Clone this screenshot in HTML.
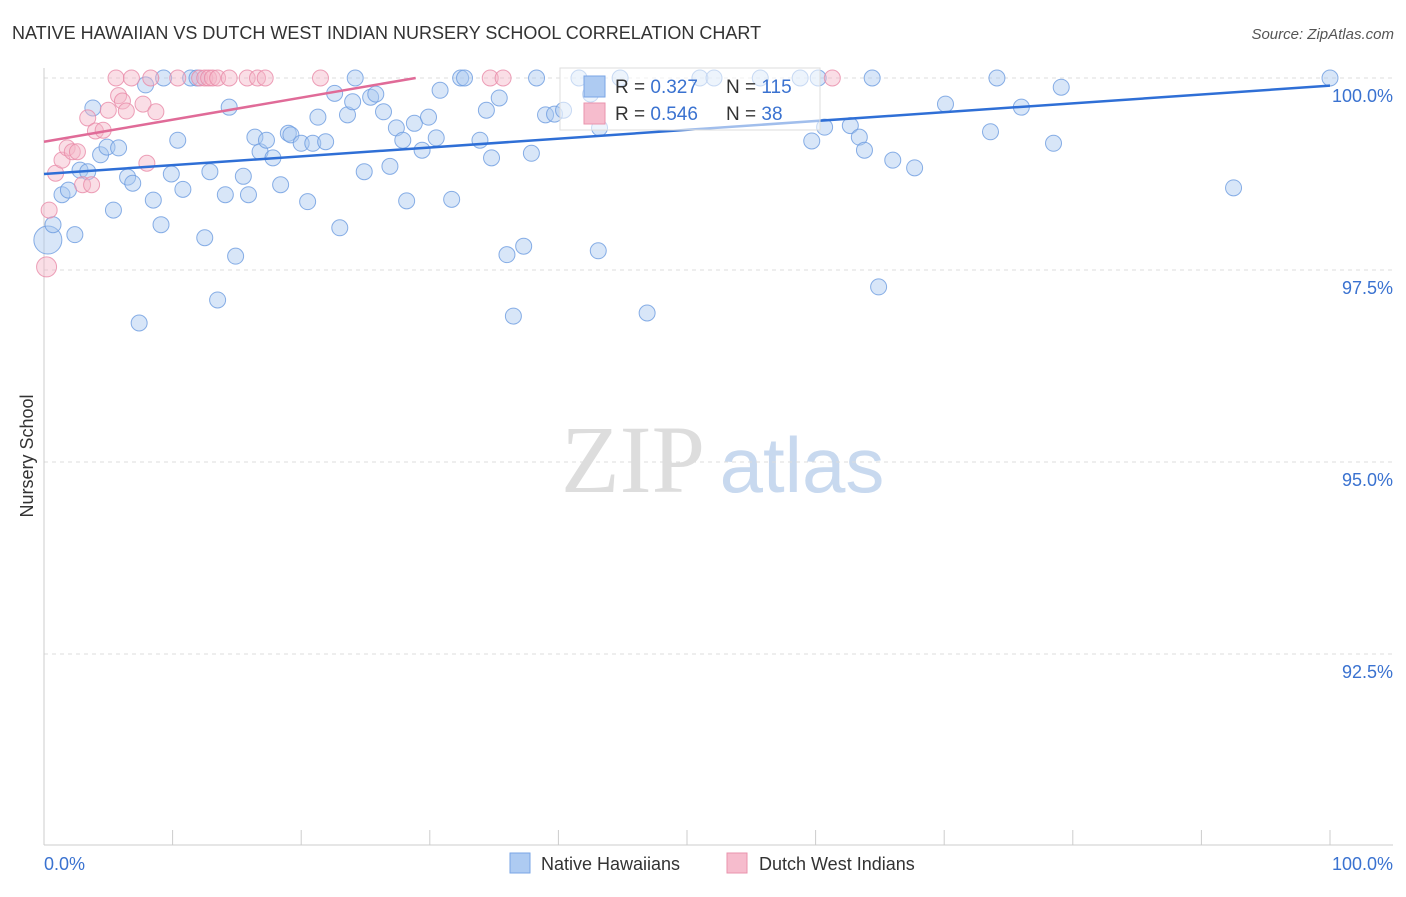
<!DOCTYPE html>
<html><head><meta charset="utf-8">
<style>
body{margin:0;background:#fff;font-family:"Liberation Sans",sans-serif;}
svg text{font-family:"Liberation Sans",sans-serif;}
</style></head>
<body>
<svg id="chart" width="1406" height="892" xmlns="http://www.w3.org/2000/svg">
<text x="12" y="39" font-size="18" fill="#333">NATIVE HAWAIIAN VS DUTCH WEST INDIAN NURSERY SCHOOL CORRELATION CHART</text>
<text x="1394" y="39" font-size="15" fill="#555" text-anchor="end" font-style="italic">Source: ZipAtlas.com</text>
<text x="33" y="456" font-size="18" fill="#333" text-anchor="middle" transform="rotate(-90 33 456)">Nursery School</text>
<g>
<text x="633" y="492" font-size="96" fill="#ddd" text-anchor="middle" font-family="Liberation Serif" style="font-family:'Liberation Serif',serif">ZIP</text>
<text x="802" y="492" font-size="78" fill="#c8d9ef" text-anchor="middle">atlas</text>
</g>
<g id="grid"></g><g id="axes"></g><g id="marks"></g><g id="trends"></g>
<g>
<rect x="560" y="68" width="260" height="62" fill="#fff" fill-opacity="0.55" stroke="#ddd"/>
<rect x="584" y="76" width="21" height="21" fill="#aecbf2" stroke="#7aa6e6"/>
<text x="615" y="93" font-size="19" fill="#333">R = <tspan fill="#3a72d0">0.327</tspan></text>
<text x="726" y="93" font-size="19" fill="#333">N = <tspan fill="#3a72d0">115</tspan></text>
<rect x="584" y="103" width="21" height="21" fill="#f6bccd" stroke="#e993ad"/>
<text x="615" y="120" font-size="19" fill="#333">R = <tspan fill="#3a72d0">0.546</tspan></text>
<text x="726" y="120" font-size="19" fill="#333">N = <tspan fill="#3a72d0"> 38</tspan></text>
</g>
<g>
<rect x="510" y="853" width="20" height="20" fill="#aecbf2" stroke="#7aa6e6"/>
<text x="541" y="870" font-size="18" fill="#333">Native Hawaiians</text>
<rect x="727" y="853" width="20" height="20" fill="#f6bccd" stroke="#e993ad"/>
<text x="759" y="870" font-size="18" fill="#333">Dutch West Indians</text>
</g>
</svg>
<script>
const yTicks=[100,97.5,95,92.5];
const yTickLabels=["100.0%","97.5%","95.0%","92.5%"];
const xTickLabels=["0.0%","100.0%"];
const blueX=[0.3,0.7,1.4,1.9,2.4,2.8,3.4,3.8,4.4,4.9,5.4,5.8,6.5,6.9,7.4,7.9,8.5,9.1,9.3,9.9,10.4,10.8,11.4,11.9,12.5,12.9,13.5,14.1,14.4,14.9,15.5,15.9,16.4,16.8,17.3,17.8,18.4,19.0,19.2,20.0,20.5,20.9,21.3,21.9,22.6,23.0,23.6,24.0,24.2,24.9,25.4,25.8,26.4,26.9,27.4,27.9,28.2,28.8,29.4,29.9,30.5,30.8,31.7,32.4,32.7,33.9,34.4,34.8,35.4,36.0,36.5,37.3,37.9,38.3,39.0,39.7,40.4,41.6,42.5,43.1,43.2,44.8,46.9,51.0,52.1,55.7,58.8,59.7,60.2,60.7,62.7,63.4,63.8,64.4,64.9,66.0,67.7,70.1,73.6,74.1,76.0,78.5,79.1,92.5,100];
const blueY=[97.89,98.09,98.48,98.54,97.96,98.80,98.78,99.61,99.00,99.10,98.28,99.09,98.71,98.63,96.81,99.91,98.41,98.09,100,98.75,99.19,98.55,100,100,97.92,98.78,97.11,98.48,99.62,97.68,98.72,98.48,99.23,99.04,99.19,98.96,98.61,99.28,99.26,99.15,98.39,99.15,99.49,99.17,99.80,98.05,99.52,99.69,100,98.78,99.75,99.79,99.56,98.85,99.35,99.19,98.40,99.41,99.06,99.49,99.22,99.84,98.42,100,100,99.19,99.58,98.96,99.74,97.70,96.90,97.81,99.02,100,99.52,99.53,99.58,100,99.79,97.75,99.35,100,96.94,100,100,100,100,99.18,100,99.36,99.38,99.23,99.06,100,97.28,98.93,98.83,99.66,99.30,100,99.62,99.15,99.88,98.57,100];
const pinkX=[0.2,0.4,0.9,1.4,1.8,2.2,2.6,3.0,3.4,3.7,4.0,4.6,5.0,5.6,5.8,6.1,6.4,6.8,7.7,8.0,8.3,8.7,10.4,12.1,12.5,12.8,13.1,13.5,14.4,15.8,16.6,17.2,21.5,34.7,35.7,61.3];
const pinkY=[97.54,98.28,98.76,98.93,99.09,99.04,99.04,98.61,99.48,98.61,99.31,99.32,99.58,100,99.77,99.70,99.57,100,99.66,98.89,100,99.56,100,100,100,100,100,100,100,100,100,100,100,100,100,100];
const blueTrend=[[0,98.75],[100,99.90]];
const pinkTrend=[[0,99.17],[28.9,100]];
const X0=44,X1=1330,Y0=78,YPX=76.8;
const sx=v=>X0+(X1-X0)*v/100;
const sy=v=>Y0+(100-v)*YPX;
const NS="http://www.w3.org/2000/svg";
function mk(tag,attrs,parent){const e=document.createElementNS(NS,tag);for(const k in attrs)e.setAttribute(k,attrs[k]);document.getElementById(parent).appendChild(e);return e;}
yTicks.forEach((t,i)=>{
  const l=mk('line',{x1:44,x2:1393,y1:sy(t),y2:sy(t),stroke:'#ddd','stroke-dasharray':'4,4'},'grid');
  
  
  const tx=mk('text',{x:1393,y:sy(t)+24,'font-size':18,fill:'#3a72d0','text-anchor':'end'},'grid');
  tx.textContent=yTickLabels[i];
  
  
});
let a=mk('line',{x1:44,x2:44,y1:68,y2:845,stroke:'#ccc'},'axes');


a=mk('line',{x1:44,x2:1393,y1:845,y2:845,stroke:'#ccc'},'axes');


for(let i=0;i<=10;i++){const t=mk('line',{x1:sx(i*10),x2:sx(i*10),y1:830,y2:845,stroke:'#ccc'},'axes');
  
  }
let xl=mk('text',{x:44,y:870,'font-size':18,fill:'#3a72d0'},'axes');xl.textContent=xTickLabels[0];


xl=mk('text',{x:1393,y:870,'font-size':18,fill:'#3a72d0','text-anchor':'end'},'axes');xl.textContent=xTickLabels[1];


blueX.forEach((v,i)=>{const c=mk('circle',{cx:sx(v),cy:sy(blueY[i]),r:i==0?14:8,fill:'#a9c8f0','fill-opacity':0.45,stroke:'#6b9be0','stroke-opacity':0.8},'marks');
  
  });
pinkX.forEach((v,i)=>{const c=mk('circle',{cx:sx(v),cy:sy(pinkY[i]),r:i==0?10:8,fill:'#f5b5c8','fill-opacity':0.45,stroke:'#e88aa8','stroke-opacity':0.8},'marks');
  
  });
let tl=mk('line',{x1:sx(blueTrend[0][0]),y1:sy(blueTrend[0][1]),x2:sx(blueTrend[1][0]),y2:sy(blueTrend[1][1]),stroke:'#2f6fd6','stroke-width':2.5},'trends');


tl=mk('line',{x1:sx(pinkTrend[0][0]),y1:sy(pinkTrend[0][1]),x2:sx(pinkTrend[1][0]),y2:sy(pinkTrend[1][1]),stroke:'#e06b98','stroke-width':2.5},'trends');


</script>
</body></html>
